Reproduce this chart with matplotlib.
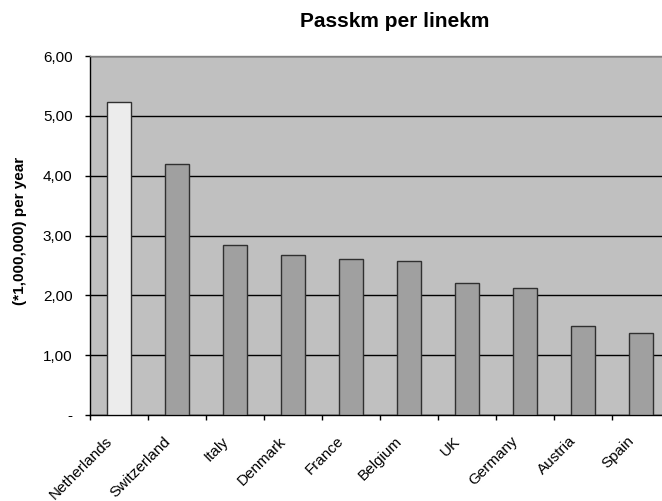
import matplotlib
matplotlib.use("Agg")
import matplotlib.pyplot as plt
import matplotlib.transforms as mtransforms
import numpy as np
from matplotlib.ticker import FixedLocator, FuncFormatter

plt.rcParams["font.family"] = ["Liberation Sans", "DejaVu Sans"]

countries = ["Netherlands", "Switzerland", "Italy", "Denmark", "France",
             "Belgium", "UK", "Germany", "Austria", "Spain"]
passkm = [5.23, 4.19, 2.84, 2.67, 2.61, 2.58, 2.20, 2.12, 1.49, 1.37]

W, H = 662, 501
fig = plt.figure(figsize=(W / 100, H / 100), dpi=100)
fig.patch.set_facecolor("white")

# plot area in pixels: x 90..662, y 56..415
ax = fig.add_axes([90 / W, (H - 415) / H, (W - 90) / W, (415 - 56) / H])
ax.set_facecolor("#c0c0c0")

x = np.arange(len(countries))
colors = ["#ececec"] + ["#a0a0a0"] * (len(countries) - 1)
ax.bar(x, passkm, width=0.41, color=colors, edgecolor="#303030",
       linewidth=1.0, zorder=3)

ax.set_ylim(0, 6)
# category spacing of 58 px, right side is cut by the image edge
ax.set_xlim(-0.5, -0.5 + (W - 90) / 58)

ax.set_yticks(np.arange(0, 7, 1))
ax.yaxis.set_major_formatter(FuncFormatter(
    lambda v, p: "-" if v == 0 else ("%.2f" % v).replace(".", ",")))
ax.yaxis.grid(True, color="black", linewidth=1.0, zorder=1)
ax.set_axisbelow(True)

# category labels: drawn as text so they can sit a bit left of the bar centre
ax.set_xticks(x)
ax.set_xticklabels([])
ax.tick_params(axis="x", which="major", length=0)
shift = mtransforms.ScaledTranslation(-9 / 100, -24 / 100, fig.dpi_scale_trans)
for i, name in zip(x, countries):
    ax.text(i, 0, name, transform=ax.get_xaxis_transform() + shift,
            rotation=45, ha="right", va="center", rotation_mode="anchor",
            fontsize=11, clip_on=False)

ax.xaxis.set_minor_locator(FixedLocator(np.arange(-0.5, 10, 1)))
ax.tick_params(axis="x", which="minor", length=3.6, width=1, color="black",
               direction="out")
ax.tick_params(axis="y", length=3.6, width=1, color="black", labelsize=11,
               pad=9)

for s in ["left", "bottom"]:
    ax.spines[s].set_color("black")
    ax.spines[s].set_linewidth(1.0)
ax.spines["top"].set_color("#808080")
ax.spines["top"].set_linewidth(1.0)
ax.spines["right"].set_visible(False)

fig.text(20.5 / W, 1 - 231 / H, "(*1,000,000) per year", rotation=90,
         ha="center", va="center", fontsize=11, fontweight="bold")

fig.text(395 / W, 1 - 27 / H, "Passkm per linekm", ha="center",
         va="baseline", fontsize=15, fontweight="bold")

fig.savefig("out.png", dpi=100)
